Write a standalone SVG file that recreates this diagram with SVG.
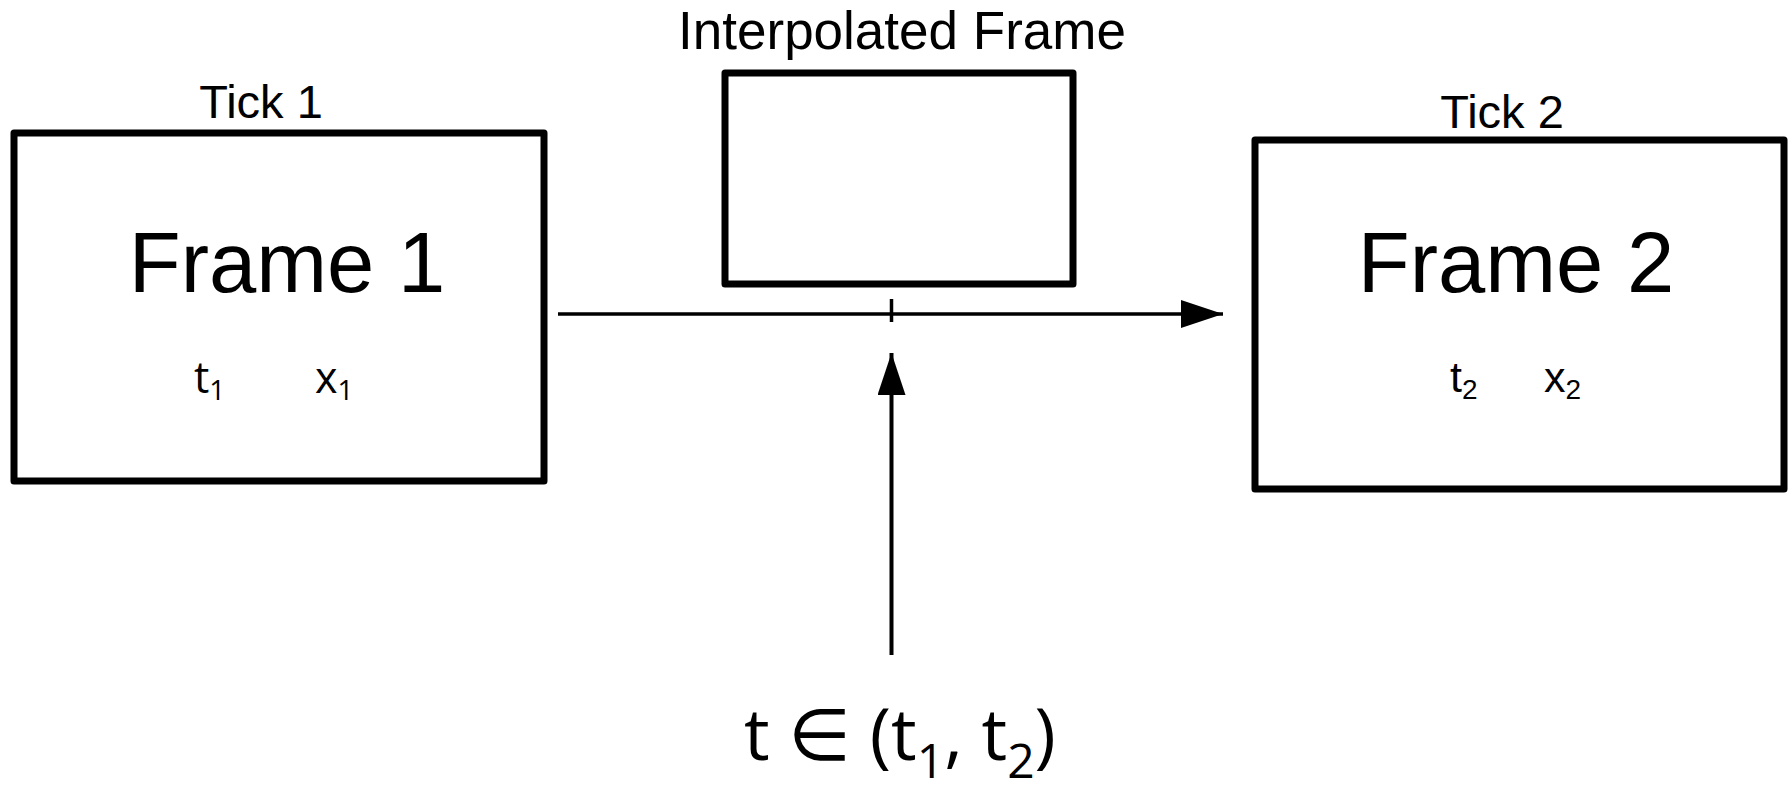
<svg xmlns="http://www.w3.org/2000/svg" width="1791" height="787" viewBox="0 0 1791 787">
<defs>
<style>
.box{fill:#fff;stroke:#000;stroke-width:7;stroke-linejoin:round}
.lbl{font-family:"Liberation Sans",Arial,sans-serif;fill:#000}
.os{font-family:"Open Sans","DejaVu Sans",sans-serif;fill:#000}
.edge{stroke:#000;fill:none}
</style>
<marker id="ah" markerUnits="userSpaceOnUse" markerWidth="44" markerHeight="30" refX="42" refY="14" orient="auto" viewBox="0 0 44 30">
<path d="M0,0 L42,14 L0,28 Z" fill="#000"/>
</marker>
</defs>
<rect width="1791" height="787" fill="#fff"/>
<g id="frame1">
<rect class="box" x="14" y="133" width="530" height="348"/>
<text class="lbl" x="261" y="118" font-size="47" text-anchor="middle">Tick 1</text>
<text class="lbl" x="287" y="292" font-size="85" text-anchor="middle">Frame 1</text>
<text class="os" x="194" y="393" font-size="43">t<tspan font-size="28" dy="7">1</tspan></text>
<text class="os" x="315" y="393" font-size="43">x<tspan font-size="28" dy="7">1</tspan></text>
</g>
<g id="interp">
<rect class="box" x="725" y="73" width="348" height="211"/>
<text class="lbl" x="902" y="49" font-size="53" text-anchor="middle">Interpolated Frame</text>
</g>
<g id="frame2">
<rect class="box" x="1255" y="140" width="529" height="349"/>
<text class="lbl" x="1502" y="128" font-size="47" text-anchor="middle">Tick 2</text>
<text class="lbl" x="1516" y="292" font-size="85" text-anchor="middle">Frame 2</text>
<text class="lbl" x="1450" y="392" font-size="43">t<tspan font-size="28" dy="7">2</tspan></text>
<text class="lbl" x="1544" y="392" font-size="43">x<tspan font-size="28" dy="7">2</tspan></text>
</g>
<g id="tlabel">
<text class="os" x="744" y="760" font-size="72">t ∈ (t<tspan font-size="48" dy="18">1</tspan><tspan dy="-18">, t</tspan><tspan font-size="48" dy="18">2</tspan><tspan dy="-18">)</tspan></text>
</g>
<g id="connectors">
<line class="edge" x1="558" y1="314" x2="1223" y2="314" stroke-width="3.5" marker-end="url(#ah)"/>
<line class="edge" x1="891.5" y1="299" x2="891.5" y2="322" stroke-width="3.5"/>
<line class="edge" x1="891.5" y1="655" x2="891.5" y2="353" stroke-width="4" marker-end="url(#ah)"/>
</g>
</svg>
